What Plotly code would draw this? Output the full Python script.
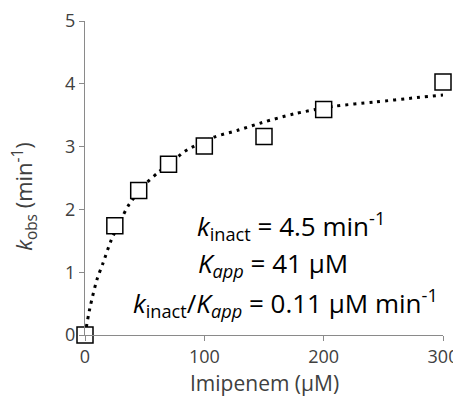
import plotly.graph_objects as go

# Measured data (Imipenem concentration in µM vs k_obs in min^-1)
conc = [0, 25, 45, 70, 100, 150, 200, 300]
kobs = [0, 1.74, 2.30, 2.72, 3.01, 3.16, 3.59, 4.03]

# Fitted curve, values
curve_x = [0, 4, 10, 15, 22, 31, 37, 51, 62, 78, 84, 108, 128, 148, 175, 208, 243, 278, 300]
curve_y = [0, 0.42, 0.88, 1.14, 1.51, 1.87, 2.08, 2.41, 2.60, 2.84, 2.93, 3.15, 3.26, 3.38, 3.52, 3.64, 3.71, 3.78, 3.82]

x_ticks = [0, 100, 200, 300]
y_ticks = [0, 1, 2, 3, 4, 5]

FONT = "Open Sans"
TXT = "#404040"
AX = "#8a8a8a"

fig = go.Figure()
fig.add_trace(go.Scatter(
    x=curve_x, y=curve_y, mode="lines",
    line=dict(color="black", width=3, dash="3px,5px", shape="spline", smoothing=0.8),
    hoverinfo="skip", showlegend=False,
))
fig.add_trace(go.Scatter(
    x=conc, y=kobs, mode="markers",
    marker=dict(symbol="square", size=16, color="white", line=dict(color="black", width=1.5)),
    cliponaxis=False, showlegend=False,
))

# page body has an 8px margin: the figure is sized/offset to compensate
fig.update_layout(
    width=453, height=389,
    margin=dict(l=77, r=18, t=13, b=62, autoexpand=False),
    paper_bgcolor="white", plot_bgcolor="white",
    font=dict(family=FONT, color=TXT),
    xaxis=dict(
        range=[0, 300], tickvals=x_ticks, showgrid=False, zeroline=False, automargin=False,
        showline=True, linecolor=AX, linewidth=1,
        ticks="outside", ticklen=5, tickcolor=AX, tickwidth=1,
        tickfont=dict(size=18, color=TXT, family=FONT),
    ),
    yaxis=dict(
        range=[0, 5], tickvals=y_ticks, showgrid=False, zeroline=False, automargin=False,
        showline=True, linecolor=AX, linewidth=1,
        ticks="outside", ticklen=5, tickcolor=AX, tickwidth=1,
        tickfont=dict(size=18, color=TXT, family=FONT),
    ),
)

fig.add_annotation(
    xref="paper", yref="paper", x=0.5, y=0, yshift=-48,
    text="Imipenem (µM)", showarrow=False,
    font=dict(size=21, color=TXT, family=FONT), xanchor="center", yanchor="middle",
)
fig.add_annotation(
    xref="paper", yref="paper", x=0, xshift=-60, y=0.44, textangle=-90,
    text="<i>k</i><sub>obs</sub> (min<sup>-1</sup>)", showarrow=False,
    font=dict(size=22, color=TXT, family=FONT), xanchor="center", yanchor="middle",
)

ann_lines = [
    ("<i>k</i><sub>inact</sub> = 4.5 min<sup>-1</sup>", 0.576, 0.346),
    ("<i>K</i><sub><i>app</i></sub> = 41 µM", 0.526, 0.226),
    ("<i>k</i><sub>inact</sub>/<i>K</i><sub><i>app</i></sub> = 0.11 µM min<sup>-1</sup>", 0.559, 0.103),
]
for txt, xx, yy in ann_lines:
    fig.add_annotation(
        xref="paper", yref="paper", x=xx, y=yy, text=txt, showarrow=False,
        font=dict(size=26, color="black", family=FONT), xanchor="center", yanchor="middle",
    )

fig.write_html("out.html")
